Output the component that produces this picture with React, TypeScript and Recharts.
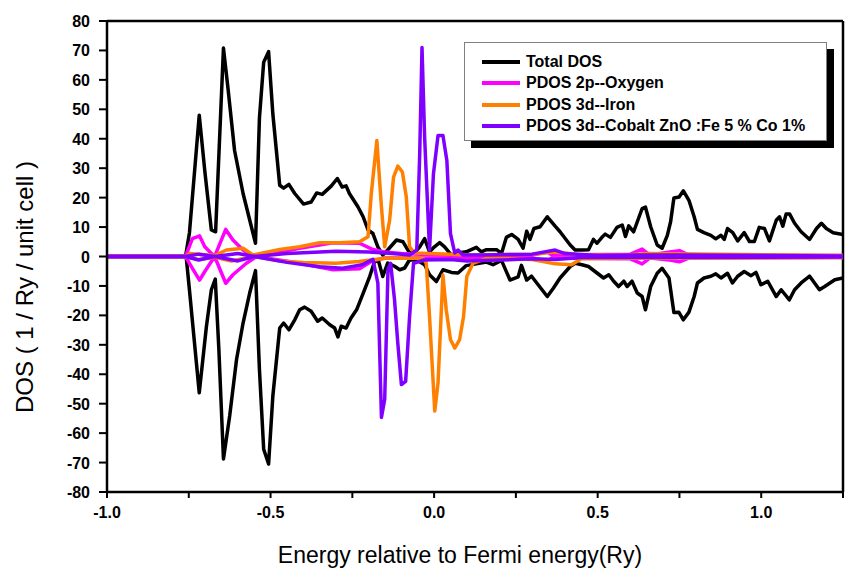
import { LineChart, Line, XAxis, YAxis, Legend, ReferenceLine } from 'recharts'

type Pt = [number, number]

// energy (Ry), DOS (1/Ry/unit cell); spin up > 0, spin down < 0
const totalUp: Pt[] = [
  [-1, 0], [-0.76, 0], [-0.748, 8], [-0.718, 48], [-0.701, 29], [-0.681, 9], [-0.668, 8.4], [-0.644, 70.8],
  [-0.63, 57], [-0.61, 36], [-0.584, 21.4], [-0.546, 4.5], [-0.534, 47], [-0.521, 66], [-0.506, 69.6],
  [-0.493, 48.4], [-0.472, 24.2], [-0.46, 23.2], [-0.444, 24.5], [-0.426, 21.4], [-0.399, 17.8], [-0.376, 18.5],
  [-0.359, 21.6], [-0.342, 21.1], [-0.314, 24], [-0.296, 26.5], [-0.281, 23.6], [-0.269, 24], [-0.259, 21.4],
  [-0.233, 16.9], [-0.217, 13.5], [-0.202, 9], [-0.187, 7.8], [-0.172, 3.3], [-0.157, 0.5], [-0.142, 2.2],
  [-0.115, 5.6], [-0.095, 5], [-0.075, 1.2], [-0.06, 1.2], [-0.044, 3.3], [-0.029, 6.1], [-0.014, 1.6],
  [0.001, 3.3], [0.017, 4.7], [0.032, 3.3], [0.053, 0.5], [0.073, 1.2], [0.098, 1.6], [0.129, 3.1],
  [0.144, 1.6], [0.16, 2.3], [0.191, 2.3], [0.206, 1], [0.221, 6.5], [0.237, 7.5], [0.257, 5.8], [0.272, 2.8],
  [0.283, 8.6], [0.293, 5.8], [0.305, 9.5], [0.324, 10.1], [0.346, 13.5], [0.37, 10.3], [0.385, 8.4],
  [0.416, 3.9], [0.431, 2.2], [0.452, 2.2], [0.472, 2.3], [0.487, 5.8], [0.498, 4.5], [0.513, 6.5],
  [0.523, 7.6], [0.539, 6.5], [0.559, 9.9], [0.575, 10.7], [0.585, 6.8], [0.595, 10.4], [0.61, 8.4],
  [0.636, 16.3], [0.646, 16.8], [0.662, 10.1], [0.682, 3.9], [0.697, 2.8], [0.713, 7.2], [0.723, 11.8],
  [0.733, 19.9], [0.749, 20.2], [0.762, 22.3], [0.779, 19.1], [0.795, 13.5], [0.805, 9.2], [0.825, 8.1],
  [0.846, 7.2], [0.861, 6], [0.877, 7.2], [0.887, 5.8], [0.897, 9.5], [0.913, 8.1], [0.928, 5.3],
  [0.948, 8.1], [0.964, 5.1], [0.979, 5.1], [0.994, 9.9], [1.01, 9.5], [1.025, 5.3], [1.046, 12.3],
  [1.056, 13.5], [1.066, 10.3], [1.076, 14.4], [1.087, 14.4], [1.102, 11.3], [1.122, 8.4], [1.148, 5.8],
  [1.169, 9.5], [1.184, 11.3], [1.199, 9.5], [1.22, 8.1], [1.25, 7.5],
]

const totalDown: Pt[] = [
  [-1, 0], [-0.758, 0], [-0.748, -11.3], [-0.718, -46.3], [-0.696, -23.7], [-0.681, -11.3], [-0.669, -7.7],
  [-0.658, -31.6], [-0.644, -68.8], [-0.625, -54.2], [-0.604, -35], [-0.584, -22.6], [-0.564, -12.5],
  [-0.546, -4.8], [-0.534, -38.4], [-0.521, -65.5], [-0.506, -70.5], [-0.493, -47.4], [-0.472, -24.3],
  [-0.46, -22.6], [-0.444, -24.9], [-0.426, -21.5], [-0.411, -18.1], [-0.396, -17.2], [-0.376, -18.6],
  [-0.356, -22], [-0.342, -20.9], [-0.319, -23.2], [-0.304, -24.3], [-0.294, -27.3], [-0.284, -23.7],
  [-0.269, -24.3], [-0.254, -20.9], [-0.237, -18.1], [-0.217, -12.5], [-0.197, -6.8], [-0.182, -1.7],
  [-0.17, -1.5], [-0.157, -6.8], [-0.142, -2.2], [-0.121, -3.3], [-0.105, -4.5], [-0.09, -3.9],
  [-0.075, -1.1], [-0.053, -1.2], [-0.029, -2.8], [-0.014, -6.2], [0.007, -8.5], [0.027, -4.5],
  [0.053, -5.4], [0.073, -5.6], [0.098, -3.1], [0.129, -2.5], [0.16, -1.9], [0.18, -2.8], [0.206, -1.3],
  [0.232, -8], [0.257, -6.9], [0.267, -3], [0.283, -8], [0.298, -6.7], [0.318, -9.6], [0.346, -13.6],
  [0.365, -10.7], [0.385, -7.3], [0.416, -3.4], [0.431, -2.3], [0.452, -2.8], [0.472, -3.4], [0.498, -5.6],
  [0.518, -7.3], [0.534, -6.2], [0.549, -8.4], [0.564, -10.2], [0.58, -8.4], [0.59, -10.2], [0.605, -8.4],
  [0.621, -12.4], [0.636, -13.6], [0.646, -18.1], [0.662, -10.2], [0.682, -5.7], [0.697, -4], [0.718, -7.3],
  [0.733, -19], [0.748, -18.9], [0.762, -21.5], [0.779, -18.9], [0.795, -13.6], [0.805, -9], [0.825, -7.3],
  [0.846, -6.7], [0.861, -5.9], [0.877, -7.3], [0.897, -5.7], [0.912, -9], [0.928, -6.7], [0.948, -5.1],
  [0.969, -6.5], [0.984, -5.4], [0.999, -9.6], [1.02, -8.4], [1.046, -13.6], [1.061, -11.3], [1.086, -14.7],
  [1.102, -11.3], [1.122, -9], [1.148, -6.7], [1.178, -11.3], [1.194, -10.2], [1.225, -7.9], [1.25, -7.3],
]

const oxygenUp: Pt[] = [
  [-1, 0], [-0.76, 0], [-0.739, 6.1], [-0.717, 7], [-0.701, 3.3], [-0.686, 1.6], [-0.671, 0], [-0.637, 9.2],
  [-0.615, 5.6], [-0.584, 2.2], [-0.554, 0], [-0.472, 1.5], [-0.411, 2.8], [-0.309, 4.7], [-0.228, 4.5],
  [-0.19, 2.5], [-0.15, 1.5], [-0.1, 1], [0, 0.6], [0.1, 0.3], [0.3, 0.5], [0.346, 1.5], [0.36, 0.5],
  [0.6, 0.8], [0.636, 2.5], [0.66, 0.5], [0.72, 1.5], [0.75, 2], [0.78, 0.5], [1.25, 0.3],
]

const oxygenDown: Pt[] = [
  [-1, 0], [-0.76, 0], [-0.739, -4], [-0.717, -8], [-0.701, -5.1], [-0.671, 0], [-0.637, -9.1], [-0.615, -6.2],
  [-0.574, -2.3], [-0.543, 0], [-0.411, -2.3], [-0.309, -4.5], [-0.228, -4.2], [-0.19, -1.5], [-0.15, -0.5],
  [0, -0.5], [0.3, -0.5], [0.346, -1.5], [0.36, -0.5], [0.6, -0.8], [0.636, -2.5], [0.66, -0.5], [0.72, -1.2],
  [0.75, -1.8], [0.78, -0.5], [1.25, -0.3],
]

const ironUp: Pt[] = [
  [-1, 0], [-0.76, 0], [-0.747, 1], [-0.671, 0.3], [-0.635, 2.2], [-0.584, 2.8], [-0.554, 0.5], [-0.472, 2.4],
  [-0.411, 3.3], [-0.35, 4.7], [-0.289, 4.7], [-0.228, 5], [-0.202, 6.7], [-0.192, 21.4], [-0.175, 39.4],
  [-0.161, 16.8], [-0.151, 3.3], [-0.136, 12.3], [-0.124, 27], [-0.111, 30.7], [-0.097, 28.7], [-0.085, 20.2],
  [-0.075, 3.3], [-0.06, 1.2], [0.05, 0.8], [0.1, 0.5], [0.3, 0.8], [0.37, 1.5], [0.45, 0.5], [0.6, 0.6],
  [0.65, 1], [1.25, 0.3],
]

const ironDown: Pt[] = [
  [-1, 0], [-0.76, 0], [-0.72, -1], [-0.67, -0.3], [-0.62, -1.5], [-0.55, 0], [-0.47, -1.5], [-0.4, -2],
  [-0.3, -2.3], [-0.23, -1.7], [-0.15, -0.6], [-0.034, -0.6], [-0.024, -2.3], [-0.014, -20.4], [0.002, -52.5],
  [0.012, -42.9], [0.027, -6.3], [0.037, -18.1], [0.05, -28.2], [0.063, -31.1], [0.078, -28.2], [0.09, -20.4],
  [0.1, -6.8], [0.119, -2.3], [0.16, -0.6], [0.3, -1], [0.37, -2.5], [0.42, -2.8], [0.45, -0.8], [0.6, -0.6],
  [1.25, -0.3],
]

const cobaltUp: Pt[] = [
  [-1, 0], [-0.76, 0], [-0.72, 0.8], [-0.67, 0], [-0.6, 1], [-0.55, 0], [-0.45, 1], [-0.3, 1.8], [-0.2, 1.5],
  [-0.15, 1.2], [-0.1, 0.8], [-0.075, 0.5], [-0.053, 2.2], [-0.044, 34.9], [-0.037, 71], [-0.029, 40.5],
  [-0.014, 2.2], [-0.002, 28.1], [0.012, 41.1], [0.027, 41.1], [0.039, 32.6], [0.05, 7.8], [0.063, 1.2],
  [0.073, 2.2], [0.088, 0.5], [0.15, 0.5], [0.3, 0.8], [0.37, 2.2], [0.4, 1], [0.5, 0.3], [0.62, 0.5],
  [0.75, 0.5], [1.25, 0.2],
]

const cobaltDown: Pt[] = [
  [-1, 0], [-0.76, 0], [-0.72, -1.2], [-0.67, 0], [-0.6, -1.5], [-0.55, 0], [-0.45, -2], [-0.35, -3.5],
  [-0.28, -4], [-0.22, -2.8], [-0.187, -1], [-0.172, -9], [-0.161, -54.7], [-0.151, -48.5], [-0.141, -4.5],
  [-0.133, -2.3], [-0.121, -14.7], [-0.111, -29.4], [-0.1, -43.5], [-0.087, -42.4], [-0.075, -20.4],
  [-0.063, -2.3], [-0.03, -1.2], [0.05, -1], [0.1, -1.5], [0.2, -1.2], [0.3, -0.8], [0.37, -1], [0.45, -0.3],
  [1.25, -0.2],
]

const legendNames = ['Total DOS', 'PDOS 2p--Oxygen', 'PDOS 3d--Iron', 'PDOS 3d--Cobalt ZnO :Fe 5 % Co 1%']
const legendColors = ['#000000', '#ff00ff', '#ff8000', '#8000ff']

const xTicks = [-1, -0.75, -0.5, -0.25, 0, 0.25, 0.5, 0.75, 1, 1.25]
const yTicks = Array.from({ length: 33 }, (_, i) => -80 + i * 5)

const font = 'Liberation Sans, Arial, sans-serif'

const series = [
  { key: 'totUp', data: totalUp, color: legendColors[0] },
  { key: 'totDn', data: totalDown, color: legendColors[0] },
  { key: 'oUp', data: oxygenUp, color: legendColors[1] },
  { key: 'oDn', data: oxygenDown, color: legendColors[1] },
  { key: 'feUp', data: ironUp, color: legendColors[2] },
  { key: 'feDn', data: ironDown, color: legendColors[2] },
  { key: 'coUp', data: cobaltUp, color: legendColors[3] },
  { key: 'coDn', data: cobaltDown, color: legendColors[3] },
]

const YTick = ({ x, y, payload }: any) => {
  const major = payload.value % 10 === 0
  return (
    <g>
      <line x1={x + 17} x2={x + 17 - (major ? 8 : 4)} y1={y} y2={y} stroke="#000" strokeWidth={2} />
      {major && (
        <text x={x} y={y} dy={6} textAnchor="end" fontFamily={font} fontWeight="bold" fontSize={16} fill="#000">
          {payload.value}
        </text>
      )}
    </g>
  )
}

const XTick = ({ x, y, payload }: any) => {
  const v = payload.value
  if (Math.abs(v * 2 - Math.round(v * 2)) > 1e-6 || v > 1.1) return <g />
  return (
    <text x={x} y={y} dy={8} textAnchor="middle" fontFamily={font} fontWeight="bold" fontSize={16} fill="#000">
      {v.toFixed(1)}
    </text>
  )
}

const renderLegend = () => (
  <div
    style={{
      width: 363,
      height: 99,
      boxSizing: 'border-box',
      border: '1px solid #808080',
      background: '#fff',
      boxShadow: '7px 7px 0 #000',
      padding: '8px 0 0 17px',
      fontFamily: font,
      fontWeight: 'bold',
      fontSize: 16,
      color: '#000',
    }}
  >
    {legendNames.map((name, i) => (
      <div key={name} style={{ display: 'flex', alignItems: 'center', height: 21.5 }}>
        <span style={{ width: 38, height: 4, background: legendColors[i], marginRight: 6 }} />
        <span style={{ whiteSpace: 'nowrap' }}>{name}</span>
      </div>
    ))}
  </div>
)

export default function App() {
  return (
    <div style={{ position: 'absolute', left: 0, top: 0, background: '#fff' }}>
      <LineChart width={847} height={579} margin={{ top: 21, right: 4, left: 47, bottom: 0 }}>
        <XAxis
          type="number"
          dataKey="x"
          domain={[-1, 1.25]}
          ticks={xTicks}
          allowDataOverflow
          height={87}
          tick={<XTick />}
          tickSize={6}
          tickMargin={12}
          axisLine={{ stroke: '#000', strokeWidth: 2.5 }}
          tickLine={{ stroke: '#000', strokeWidth: 2 }}
          label={{
            content: () => (
              <text x={460} y={563} textAnchor="middle" fontFamily={font} fontSize={23} fill="#000">
                Energy relative to Fermi energy(Ry)
              </text>
            ),
          }}
        />
        <YAxis
          type="number"
          dataKey="y"
          domain={[-80, 80]}
          ticks={yTicks}
          allowDataOverflow
          width={60}
          tick={<YTick />}
          tickSize={8}
          tickMargin={9}
          tickLine={false}
          axisLine={{ stroke: '#000', strokeWidth: 2.5 }}
          label={{
            content: () => (
              <text
                x={24}
                y={287}
                transform="rotate(-90 24 287)"
                textAnchor="middle"
                dominantBaseline="central"
                fontFamily={font}
                fontSize={24}
                fill="#000"
              >
                DOS ( 1 / Ry / unit cell )
              </text>
            ),
          }}
        />
        <ReferenceLine y={80} stroke="#000" strokeWidth={2.5} />
        <ReferenceLine x={1.25} stroke="#000" strokeWidth={2.5} />
        {series.map((s) => (
          <Line
            key={s.key}
            data={s.data.map(([x, y]) => ({ x, y }))}
            dataKey="y"
            type="linear"
            stroke={s.color}
            strokeWidth={3.5}
            strokeLinejoin="round"
            dot={false}
            activeDot={false}
            isAnimationActive={false}
            legendType="none"
          />
        ))}
        <Legend
          layout="horizontal"
          verticalAlign="middle"
          align="center"
          content={renderLegend}
          wrapperStyle={{ left: 464, top: 42, width: 363, height: 99 }}
        />
      </LineChart>
    </div>
  )
}
